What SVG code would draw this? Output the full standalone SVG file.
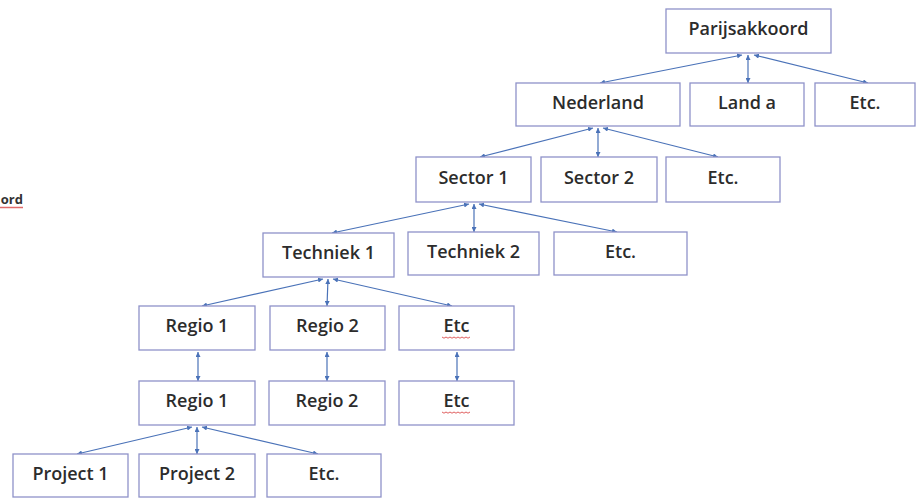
<svg xmlns="http://www.w3.org/2000/svg" width="918" height="501" viewBox="0 0 918 501">
<style>
.box{fill:#ffffff;stroke:#8f92c9;stroke-width:1.3}
.lbl{font-family:"Open Sans","Liberation Sans",sans-serif;font-size:18px;font-weight:600;fill:#2c2c2c;text-anchor:middle}
.con{stroke:#4a72b8;stroke-width:1.2;fill:none;marker-start:url(#ah);marker-end:url(#ah)}
.spell{stroke:#e06060;stroke-width:1;fill:none}
</style>
<defs>
<marker id="ah" viewBox="0 0 6 6" refX="6" refY="3" markerWidth="5" markerHeight="5" markerUnits="userSpaceOnUse" orient="auto-start-reverse">
<path d="M0,0 L6,3 L0,6 z" fill="#4a72b8"/>
</marker>
</defs>
<rect width="918" height="501" fill="#ffffff"/>
<g id="fragment">
<text x="23" y="204" font-family="Open Sans, Liberation Sans, sans-serif" font-size="13" font-weight="700" fill="#333" text-anchor="end">ord</text>
<path d="M0,207.5 L23,207.5" stroke="#e06a6a" stroke-width="1.5" fill="none"/>
</g>
<g id="connectors">
<line class="con" x1="742" y1="55" x2="600" y2="83"/>
<line class="con" x1="748" y1="55" x2="748" y2="83"/>
<line class="con" x1="754" y1="55" x2="868" y2="83"/>
<line class="con" x1="593" y1="128" x2="480" y2="157"/>
<line class="con" x1="598" y1="128" x2="598" y2="157"/>
<line class="con" x1="603" y1="128" x2="718" y2="157"/>
<line class="con" x1="469" y1="204" x2="332" y2="233"/>
<line class="con" x1="474" y1="204" x2="474" y2="232"/>
<line class="con" x1="479" y1="204" x2="617" y2="232"/>
<line class="con" x1="323" y1="279" x2="202" y2="306"/>
<line class="con" x1="328" y1="279" x2="327" y2="306"/>
<line class="con" x1="333" y1="279" x2="452" y2="306"/>
<line class="con" x1="198" y1="352" x2="198" y2="381"/>
<line class="con" x1="327" y1="352" x2="327" y2="381"/>
<line class="con" x1="457" y1="352" x2="457" y2="381"/>
<line class="con" x1="192" y1="427" x2="77" y2="454"/>
<line class="con" x1="197" y1="427" x2="197" y2="454"/>
<line class="con" x1="202" y1="427" x2="318" y2="454"/>
</g>
<g id="parijsakkoord"><rect class="box" x="666" y="9" width="165" height="44"/><text class="lbl" x="748.5" y="35">Parijsakkoord</text></g>
<g id="nederland"><rect class="box" x="516" y="83" width="164" height="43"/><text class="lbl" x="598" y="108.5">Nederland</text></g>
<g id="land-a"><rect class="box" x="690" y="83" width="114" height="43"/><text class="lbl" x="747" y="108.5">Land a</text></g>
<g id="etc-land"><rect class="box" x="815" y="83" width="100" height="43"/><text class="lbl" x="865" y="108.5">Etc.</text></g>
<g id="sector-1"><rect class="box" x="416" y="157" width="115" height="45"/><text class="lbl" x="473.5" y="183.5">Sector 1</text></g>
<g id="sector-2"><rect class="box" x="541" y="157" width="116" height="45"/><text class="lbl" x="599" y="183.5">Sector 2</text></g>
<g id="etc-sector"><rect class="box" x="666" y="157" width="114" height="45"/><text class="lbl" x="723" y="183.5">Etc.</text></g>
<g id="techniek-1"><rect class="box" x="263" y="233" width="131" height="44"/><text class="lbl" x="328.5" y="259">Techniek 1</text></g>
<g id="techniek-2"><rect class="box" x="408" y="232" width="131" height="43"/><text class="lbl" x="473.5" y="257.5">Techniek 2</text></g>
<g id="etc-techniek"><rect class="box" x="554" y="232" width="133" height="43"/><text class="lbl" x="620.5" y="257.5">Etc.</text></g>
<g id="regio-1-a"><rect class="box" x="139" y="306" width="116" height="44"/><text class="lbl" x="197" y="332">Regio 1</text></g>
<g id="regio-2-a"><rect class="box" x="270" y="306" width="115" height="44"/><text class="lbl" x="327.5" y="332">Regio 2</text></g>
<g id="etc-regio-a"><rect class="box" x="399" y="306" width="115" height="44"/><text class="lbl" x="456.5" y="332">Etc</text><path class="spell" d="M442,337 l2,1.2 l2,-1.2 l2,1.2 l2,-1.2 l2,1.2 l2,-1.2 l2,1.2 l2,-1.2 l2,1.2 l2,-1.2 l2,1.2 l2,-1.2 l2,1.2 l2,-1.2"/></g>
<g id="regio-1-b"><rect class="box" x="139" y="381" width="116" height="44"/><text class="lbl" x="197" y="407">Regio 1</text></g>
<g id="regio-2-b"><rect class="box" x="269" y="381" width="116" height="44"/><text class="lbl" x="327" y="407">Regio 2</text></g>
<g id="etc-regio-b"><rect class="box" x="399" y="381" width="115" height="44"/><text class="lbl" x="456.5" y="407">Etc</text><path class="spell" d="M442,412 l2,1.2 l2,-1.2 l2,1.2 l2,-1.2 l2,1.2 l2,-1.2 l2,1.2 l2,-1.2 l2,1.2 l2,-1.2 l2,1.2 l2,-1.2 l2,1.2 l2,-1.2"/></g>
<g id="project-1"><rect class="box" x="13" y="454" width="115" height="43"/><text class="lbl" x="70.5" y="479.5">Project 1</text></g>
<g id="project-2"><rect class="box" x="139" y="454" width="116" height="43"/><text class="lbl" x="197" y="479.5">Project 2</text></g>
<g id="etc-project"><rect class="box" x="267" y="454" width="114" height="43"/><text class="lbl" x="324" y="479.5">Etc.</text></g>
</svg>
